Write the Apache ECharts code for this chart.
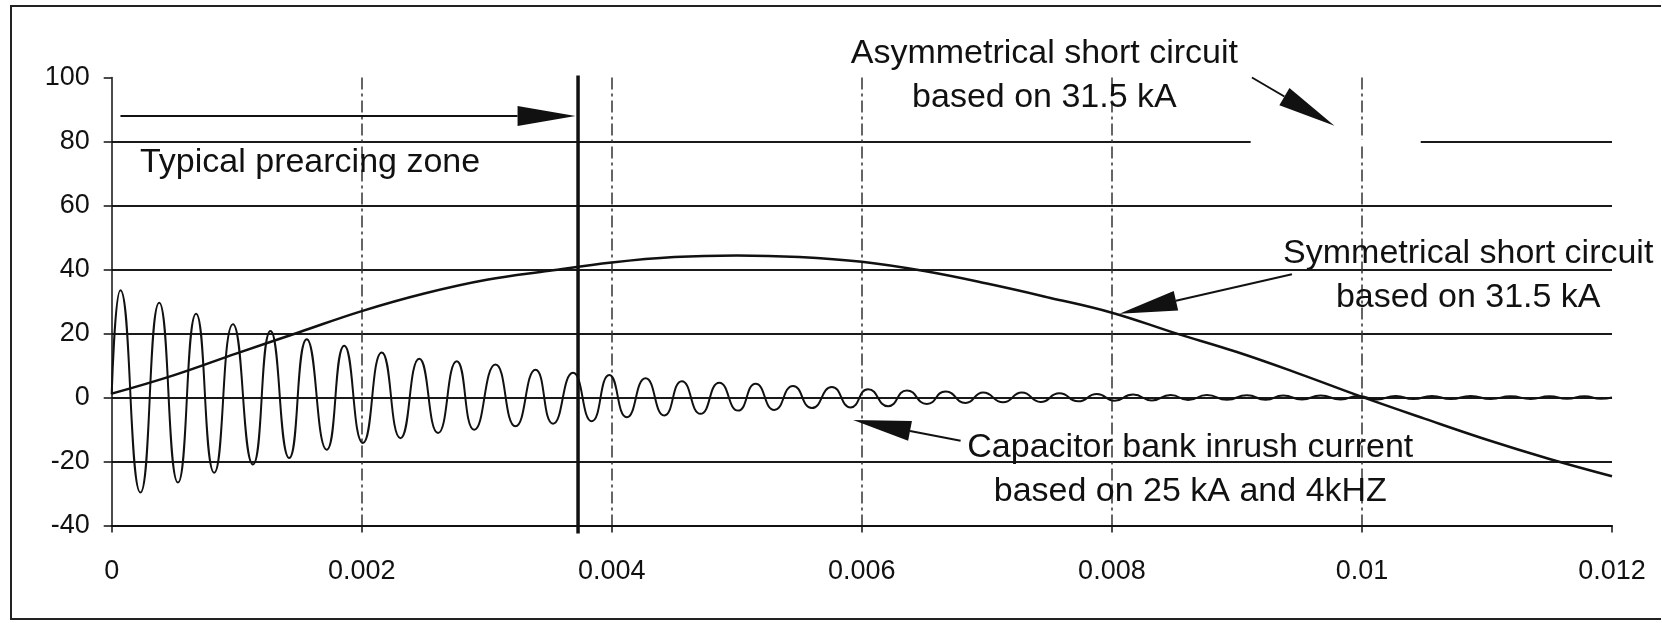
<!DOCTYPE html>
<html>
<head>
<meta charset="utf-8">
<title>Inrush current vs short circuit</title>
<script src="https://cdn.jsdelivr.net/npm/echarts/dist/echarts.min.js"></script>
<style>
  html, body { margin: 0; padding: 0; background: #fff; }
  #myChart { width: 1663px; height: 623px; }
</style>
</head>
<body>
<div id="myChart"></div>
<script>
// tick labels
var xTickLabels = ['0', '0.002', '0.004', '0.006', '0.008', '0.01', '0.012']
var yTickLabels = ['-40', '-20', '0', '20', '40', '60', '80', '100']

// symmetrical short circuit
var sineX = [0, 0.0005, 0.001, 0.0015, 0.002, 0.0025, 0.003, 0.0035, 0.004, 0.0045, 0.005, 0.0055,
  0.006, 0.0065, 0.007, 0.0075, 0.008, 0.0085, 0.009, 0.0095, 0.01, 0.0105, 0.011, 0.0115, 0.012]
var sineY = [1.2, 7.0, 13.8, 20.4, 27.0, 32.5, 36.8, 39.6, 42.2, 43.9, 44.4, 43.9,
  42.4, 39.5, 35.6, 31.2, 26.5, 20.2, 14.2, 7.4, 0.2, -6.6, -13.2, -19.2, -24.6]

// capacitor bank inrush current: peaks and troughs
var inrushX = [0, 0.00007, 0.00023, 0.00038, 0.00053, 0.000675, 0.00082, 0.00097, 0.00113, 0.00127,
  0.00142, 0.00156, 0.00172, 0.00186, 0.00201, 0.00216, 0.00231, 0.00246, 0.00261, 0.00276,
  0.0029, 0.00307, 0.00323, 0.00339, 0.00353, 0.00369, 0.00384, 0.00398, 0.00412, 0.00427,
  0.00442, 0.00456, 0.00471, 0.00486, 0.00501, 0.00515, 0.0053, 0.00545, 0.0056, 0.00576,
  0.00591, 0.00605, 0.00621, 0.00636, 0.00652, 0.00667, 0.00683, 0.00697, 0.00713, 0.00728,
  0.00743, 0.00758, 0.00773, 0.00788, 0.00802, 0.00817, 0.00832, 0.00847, 0.00861, 0.00876,
  0.00892, 0.00908, 0.00923, 0.00937, 0.00952, 0.00967, 0.00983, 0.00997, 0.01012, 0.01027,
  0.01041, 0.01056, 0.01071, 0.01087, 0.01103, 0.01119, 0.01135, 0.0115, 0.01164, 0.01178,
  0.01191, 0.012]
var inrushY = [1, 33.5, -29.7, 29.6, -26.6, 26.2, -23.5, 22.9, -20.9, 20.8,
  -18.9, 18.2, -16.3, 16.2, -14.2, 14.1, -12.7, 12.1, -11.1, 11.3,
  -10.1, 10.3, -9.0, 8.7, -8.2, 7.7, -7.4, 7.0, -6.2, 6.0,
  -5.6, 5.1, -5.1, 4.6, -4.1, 4.3, -3.9, 3.6, -3.3, 3.3,
  -3.1, 2.6, -2.7, 2.2, -2.0, 1.9, -1.7, 1.6, -1.5, 1.6,
  -1.4, 1.3, -1.2, 1.1, -1.0, 0.9, -0.9, 0.8, -0.8, 0.8,
  -0.7, 0.7, -0.7, 0.6, -0.6, 0.6, -0.6, 0.5, -0.6, 0.5,
  -0.5, 0.5, -0.5, 0.5, -0.5, 0.4, -0.5, 0.4, -0.4, 0.4,
  -0.4, 0]

// end of the typical prearcing zone
var prearcX = 0.00373

// annotation arrows: tail x, tail y, tip x, tip y
var arrows = [
  [0.00007, 88, 0.00371, 88],
  [0.00912, 100, 0.00978, 84.9],
  [0.00944, 38.5, 0.00806, 26.2],
  [0.00679, -13.5, 0.00593, -7]
]

// the 80 grid line is broken under the asymmetrical arrow: from x, to x, at y
var gridGaps = [[0.00911, 0.01047, 80]]

// annotation texts
var noteText = [
  'Typical prearcing zone',
  'Asymmetrical short circuit\nbased on 31.5 kA',
  'Symmetrical short circuit\nbased on 31.5 kA',
  'Capacitor bank inrush current\nbased on 25 kA and 4kHZ'
]
var noteX = [0.000226, 0.00746, 0.01085, 0.008627]
var noteY = [73.5, 100.6, 38, -22.5]
var noteAlign = ['left', 'center', 'center', 'center']

function zip(xs, ys) {
  return xs.map(function (x, i) { return [x, ys[i]] })
}

var ink = '#111'
var font = '"Liberation Sans", Arial, Helvetica, sans-serif'

var myChart = echarts.init(document.getElementById('myChart'))

var option = {
  animation: false,
  backgroundColor: '#fff',
  textStyle: { fontFamily: font, color: ink },
  grid: { left: 111.7, right: 51, top: 77.5, bottom: 97.5 },
  xAxis: {
    type: 'value',
    min: 0,
    max: 0.012,
    interval: 0.002,
    axisLine: { onZero: false, lineStyle: { color: ink, width: 2 } },
    axisTick: { show: true, length: 7, lineStyle: { color: ink, width: 1.5 } },
    axisLabel: {
      fontSize: 27, color: ink, margin: 33, fontFamily: font,
      formatter: function (v, i) { return xTickLabels[i] }
    },
    splitLine: {
      show: true, showMinLine: false, showMaxLine: false,
      lineStyle: { color: '#333', width: 1.5, type: [12, 4, 3, 4] }
    }
  },
  yAxis: {
    type: 'value',
    min: -40,
    max: 100,
    interval: 20,
    axisLine: { show: true, lineStyle: { color: ink, width: 1.5 } },
    axisTick: { show: true, length: 8, lineStyle: { color: ink, width: 1.5 } },
    axisLabel: {
      fontSize: 27, color: ink, margin: 22, fontFamily: font,
      formatter: function (v, i) { return yTickLabels[i] }
    },
    splitLine: {
      show: true, showMinLine: false, showMaxLine: false,
      lineStyle: { color: '#1a1a1a', width: 2 }
    }
  },
  // frame around the figure
  graphic: [{
    type: 'polyline',
    shape: { points: [[1661, 6], [11, 6], [11, 619], [1661, 619]] },
    style: { stroke: '#222', lineWidth: 2, fill: null },
    silent: true
  }],
  series: [
    {
      // white cover over the broken part of a grid line
      name: 'Grid gaps',
      type: 'custom',
      data: gridGaps,
      encode: { x: [0, 1], y: 2 },
      renderItem: function (params, api) {
        var a = api.coord([api.value(0), api.value(2)])
        var b = api.coord([api.value(1), api.value(2)])
        return {
          type: 'line',
          shape: { x1: a[0], y1: a[1], x2: b[0], y2: b[1] },
          style: { stroke: '#fff', lineWidth: 4 }
        }
      },
      z: 1
    },
    {
      name: 'Symmetrical short circuit',
      type: 'line',
      data: zip(sineX, sineY),
      smooth: 0.4,
      showSymbol: false,
      lineStyle: { color: ink, width: 2.5 },
      z: 3
    },
    {
      name: 'Capacitor bank inrush current',
      type: 'line',
      data: zip(inrushX, inrushY),
      smooth: 0.55,
      showSymbol: false,
      lineStyle: { color: ink, width: 2 },
      z: 3
    },
    {
      name: 'Prearcing limit',
      type: 'line',
      data: [[prearcX, 100.6], [prearcX, -42.5]],
      showSymbol: false,
      clip: false,
      lineStyle: { color: ink, width: 3.5 },
      z: 4
    },
    {
      name: 'Arrows',
      type: 'custom',
      clip: false,
      data: arrows,
      encode: { x: [0, 2], y: [1, 3] },
      renderItem: function (params, api) {
        var a = api.coord([api.value(0), api.value(1)])
        var b = api.coord([api.value(2), api.value(3)])
        var dx = b[0] - a[0], dy = b[1] - a[1]
        var len = Math.sqrt(dx * dx + dy * dy)
        var ux = dx / len, uy = dy / len
        var hl = 58, hw = 10
        var bx = b[0] - ux * hl, by = b[1] - uy * hl
        return {
          type: 'group',
          children: [
            {
              type: 'line',
              shape: { x1: a[0], y1: a[1], x2: bx, y2: by },
              style: { stroke: ink, lineWidth: 2 }
            },
            {
              type: 'polygon',
              shape: { points: [[b[0], b[1]], [bx - uy * hw, by + ux * hw], [bx + uy * hw, by - ux * hw]] },
              style: { fill: ink }
            }
          ]
        }
      },
      z: 5
    },
    {
      name: 'Notes',
      type: 'custom',
      clip: false,
      data: zip(noteX, noteY),
      renderItem: function (params, api) {
        var p = api.coord([api.value(0), api.value(1)])
        var i = params.dataIndex
        return {
          type: 'text',
          x: p[0],
          y: p[1],
          style: {
            text: noteText[i],
            fill: ink,
            fontSize: 34,
            fontFamily: font,
            lineHeight: 44,
            align: noteAlign[i],
            verticalAlign: 'middle'
          }
        }
      },
      z: 6
    }
  ]
}

myChart.setOption(option)
</script>
</body>
</html>
